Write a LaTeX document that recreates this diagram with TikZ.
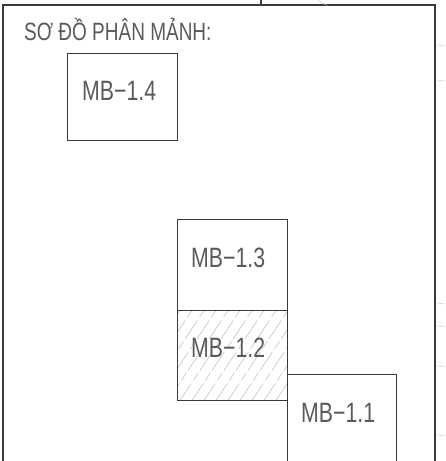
\documentclass[tikz,border=0pt]{standalone}
\usepackage{fontspec}
\setmainfont{Liberation Sans}
\newfontfamily\cadfont[FakeStretch=0.76]{Liberation Sans}
\definecolor{ink}{HTML}{3A3A3A}
\definecolor{txt}{HTML}{5A5A5A}
\begin{document}
\begin{tikzpicture}[x=1pt,y=-1pt,
  frame/.style={draw=ink,line width=1.8pt},
  sheet/.style={draw=ink,line width=1.3pt,rectangle,inner sep=0pt,anchor=north west},
  lbl/.style={text=txt,font=\cadfont\fontsize{28}{28}\selectfont,inner sep=0pt,anchor=base west},
  ttl/.style={text=txt,font=\cadfont\fontsize{25}{25}\selectfont,inner sep=0pt,anchor=base west},
  hatch/.style={draw=gray!55,line width=0.5pt,dash pattern=on 22pt off 4pt on 9pt off 3pt},
  faint/.style={draw=gray!45,line width=0.4pt}]
\clip (0,0) rectangle (446,461);
\useasboundingbox (0,0) rectangle (446,461);
% outer frame
\draw[frame] (3,490) -- (3,5) -- (435,5) -- (435,490);
\draw[frame,line width=1.2pt] (261,0) -- (261,5);
\draw[faint] (318,0) .. controls (322,3) .. (328,6);
% hatching of MB-1.2 (drawn under its outline)
\begin{scope}
  \clip (177,310) rectangle (287,400);
  \foreach \k in {-70,-58,...,120}{
    \draw[hatch] (177+\k,402) -- (177+\k+68,300);
  }
\end{scope}
% boxes
\node[sheet,minimum width=110pt,minimum height=87pt] (b14) at (67,53) {};
\node[sheet,minimum width=110pt,minimum height=91pt] (b13) at (177,219) {};
\node[sheet,minimum width=110pt,minimum height=90pt] (b12) at (177,310) {};
\node[sheet,minimum width=109pt,minimum height=110pt] (b11) at (287,374) {};
% labels
\node[ttl] (title) at (24,40) {SƠ ĐỒ PHÂN MẢNH:};
\node[lbl] (l14) at (82,100) {MB−1.4};
\node[lbl] (l13) at (191,267) {MB−1.3};
\node[lbl] (l12) at (191,357) {MB−1.2};
\node[lbl] (l11) at (301,422) {MB−1.1};
% faint marks at the right edge
\foreach \yy in {45,80,303,326,366,435}{
  \coordinate (ta) at (437,\yy);
  \coordinate (tb) at (445,\yy+1);
  \draw[faint] (ta) -- (tb);
}
\end{tikzpicture}
\end{document}
